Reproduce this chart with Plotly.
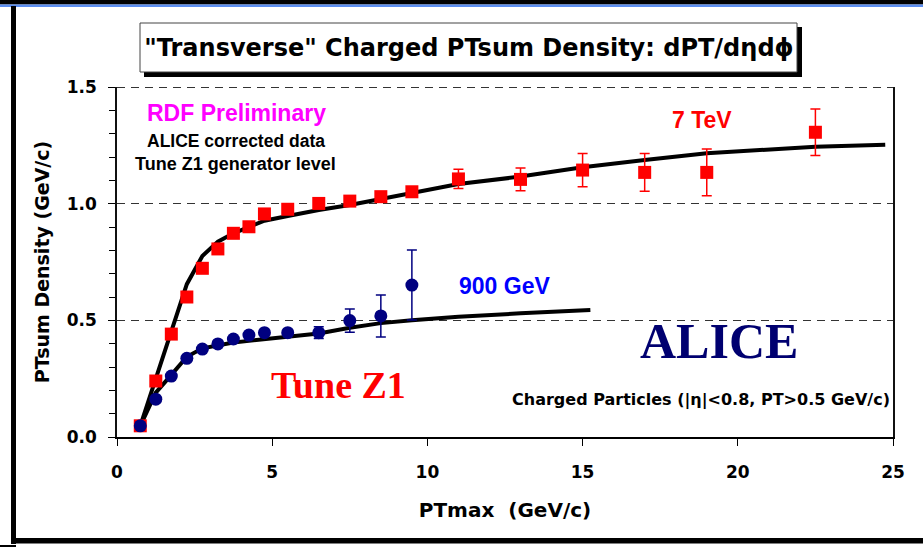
import plotly.graph_objects as go

# ---------------- data ----------------
pt_7tev = [0.75, 1.25, 1.75, 2.25, 2.75, 3.25, 3.75, 4.25, 4.75, 5.5, 6.5, 7.5, 8.5, 9.5, 11, 13, 15, 17, 19, 22.5]
dens_7tev = [0.048, 0.24, 0.441, 0.60, 0.723, 0.806, 0.873, 0.901, 0.956, 0.976, 1.001, 1.011, 1.03, 1.051,
             1.106, 1.104, 1.144, 1.134, 1.134, 1.306]
err_7tev = [None, None, None, None, None, None, None, None, None, None, None, None, None, None,
            0.041, 0.049, 0.071, 0.081, 0.10, 0.10]

pt_900 = [0.75, 1.25, 1.75, 2.25, 2.75, 3.25, 3.75, 4.25, 4.75, 5.5, 6.5, 7.5, 8.5, 9.5]
dens_900 = [0.048, 0.162, 0.261, 0.337, 0.377, 0.399, 0.42, 0.437, 0.447, 0.447, 0.447, 0.499, 0.519, 0.651]
err_900 = [None, None, None, None, None, None, None, None, None, None, 0.025, 0.05, 0.09, 0.15]

z1_7tev_x = [0.75, 1.25, 1.75, 2.25, 2.75, 3.25, 3.75, 4.25, 4.75, 5.5, 6.5, 7.5, 8.5, 9.5, 11, 13, 15, 17, 19, 22.5, 24.75]
z1_7tev_y = [0.048, 0.25, 0.465, 0.655, 0.776, 0.837, 0.873, 0.901, 0.927, 0.947, 0.973, 0.994, 1.02, 1.045,
             1.084, 1.116, 1.156, 1.187, 1.216, 1.244, 1.253]

z1_900_x = [0.75, 1.25, 1.75, 2.25, 2.75, 3.25, 3.75, 4.25, 4.75, 5.5, 6.5, 7.5, 8.5, 9.5, 11, 13, 15.25]
z1_900_y = [0.048, 0.19, 0.266, 0.344, 0.38, 0.394, 0.405, 0.412, 0.419, 0.43, 0.444, 0.468, 0.488, 0.5,
            0.515, 0.53, 0.544]

x_ticks = [0, 5, 10, 15, 20, 25]
y_ticks = [0.0, 0.5, 1.0, 1.5]
y_ticktext = ["0.0", "0.5", "1.0", "1.5"]

# ---------------- geometry helpers (pixel -> paper) ----------------
W, H = 923, 547
ML, MR, MT, MB = 117, 30, 87, 110
PW = W - ML - MR
PH = H - MT - MB


def px(x):
    return (x - ML) / PW


def py(y):
    return (H - MB - y) / PH


SANS = "DejaVu Sans"
ARIAL = "Liberation Sans"
SERIF = "Liberation Serif"

fig = go.Figure()

fig.add_trace(go.Scatter(x=z1_7tev_x, y=z1_7tev_y, mode="lines",
                         line=dict(color="black", width=4), hoverinfo="skip"))
fig.add_trace(go.Scatter(x=z1_900_x, y=z1_900_y, mode="lines",
                         line=dict(color="black", width=4), hoverinfo="skip"))

fig.add_trace(go.Scatter(x=pt_7tev, y=dens_7tev, mode="markers",
                         marker=dict(symbol="square", size=13, color="#FF0000"),
                         error_y=dict(type="data", array=err_7tev, color="#FF0000", thickness=1.5, width=5)))
fig.add_trace(go.Scatter(x=pt_900, y=dens_900, mode="markers",
                         marker=dict(symbol="circle", size=13, color="#000080"),
                         error_y=dict(type="data", array=err_900, color="#000080", thickness=1.5, width=5)))

shapes = []
# frame
shapes.append(dict(type="rect", xref="paper", yref="paper", x0=px(-5), x1=px(930), y0=py(0), y1=py(4.5),
                   fillcolor="black", line=dict(width=0), layer="above"))
shapes.append(dict(type="rect", xref="paper", yref="paper", x0=px(-5), x1=px(930), y0=py(4.5), y1=py(7),
                   fillcolor="#5B8DEF", line=dict(width=0), layer="above"))
shapes.append(dict(type="rect", xref="paper", yref="paper", x0=px(11), x1=px(16), y0=py(6), y1=py(544),
                   fillcolor="black", line=dict(width=0), layer="above"))
shapes.append(dict(type="rect", xref="paper", yref="paper", x0=px(11), x1=px(930), y0=py(538), y1=py(543.5),
                   fillcolor="black", line=dict(width=0), layer="above"))
shapes.append(dict(type="rect", xref="paper", yref="paper", x0=px(-5), x1=px(16), y0=py(545), y1=py(547),
                   fillcolor="black", line=dict(width=0), layer="above"))
# title box with shadow
shapes.append(dict(type="rect", xref="paper", yref="paper", x0=px(144), x1=px(802), y0=py(27), y1=py(77),
                   fillcolor="black", line=dict(width=0), layer="above"))
shapes.append(dict(type="rect", xref="paper", yref="paper", x0=px(140), x1=px(797), y0=py(23), y1=py(72),
                   fillcolor="white", line=dict(color="#444444", width=1), layer="above"))
# dashed top border of plot area
shapes.append(dict(type="line", xref="paper", yref="paper", x0=0, x1=1, y0=py(87.5), y1=py(87.5),
                   line=dict(color="#333333", width=1.2, dash="8px,6px"), layer="above"))

fig.update_layout(
    width=W, height=H,
    margin=dict(l=ML, r=MR, t=MT, b=MB),
    paper_bgcolor="white", plot_bgcolor="white",
    showlegend=False,
    shapes=shapes,
    title=dict(text="\"Transverse\" Charged PTsum Density: dPT/dηdϕ",
               x=469 / W, y=1 - 48 / H, xanchor="center", yanchor="middle", xref="container",
               yref="container",
               font=dict(family=SANS, size=24, color="black", weight="bold")),
    xaxis=dict(range=[0, 25], tickmode="array", tickvals=x_ticks, ticks="outside", ticklen=7, tickwidth=1,
               tickcolor="black", showline=True, linecolor="black", linewidth=2, showgrid=False, zeroline=False,
               tickfont=dict(family=SANS, size=17, color="black", weight="bold"), ticklabelstandoff=12,
               title=dict(text="PTmax\u00a0 (GeV/c)", standoff=22,
                          font=dict(family=SANS, size=20, color="black", weight="bold"))),
    yaxis=dict(range=[0, 1.5], tickmode="array", tickvals=y_ticks, ticktext=y_ticktext, ticks="outside",
               ticklen=7, tickwidth=1, tickcolor="black", showline=True, linecolor="#111111", linewidth=1.5,
               mirror=True,
               zeroline=False, showgrid=True, gridcolor="#333333", gridwidth=1, griddash="8px,6px",
               minor=dict(dtick=0.1, tick0=0, ticks="outside", ticklen=6, tickcolor="black", showgrid=False),
               tickfont=dict(family=SANS, size=17, color="black", weight="bold"), ticklabelstandoff=8,
               title=dict(text="PTsum Density (GeV/c)", standoff=12,
                          font=dict(family=SANS, size=19, color="black", weight="bold"))),
)

ann = []


def add_text(text, x, y, family, size, color, weight="bold"):
    ann.append(dict(text=text, x=x, y=y, xref="x", yref="y", showarrow=False, xanchor="center",
                    yanchor="middle", font=dict(family=family, size=size, color=color, weight=weight)))


add_text("RDF Preliminary", 3.84, 1.389, ARIAL, 23, "#FF00FF")
add_text("ALICE corrected data", 3.83, 1.269, ARIAL, 17.5, "black")
add_text("Tune Z1 generator level", 3.81, 1.168, ARIAL, 18, "black")
add_text("7 TeV", 18.86, 1.359, ARIAL, 23, "#FF0000")
add_text("900 GeV", 12.47, 0.648, ARIAL, 23, "#0000FF")
add_text("ALICE", 19.38, 0.413, SERIF, 50, "#000070")
add_text("Tune Z1", 7.14, 0.223, SERIF, 38, "#FF0000")
add_text("Charged Particles (|η|<0.8, PT>0.5 GeV/c)", 18.83, 0.159, SANS, 16, "black")
fig.update_layout(annotations=ann)

fig.write_html("out.html")
